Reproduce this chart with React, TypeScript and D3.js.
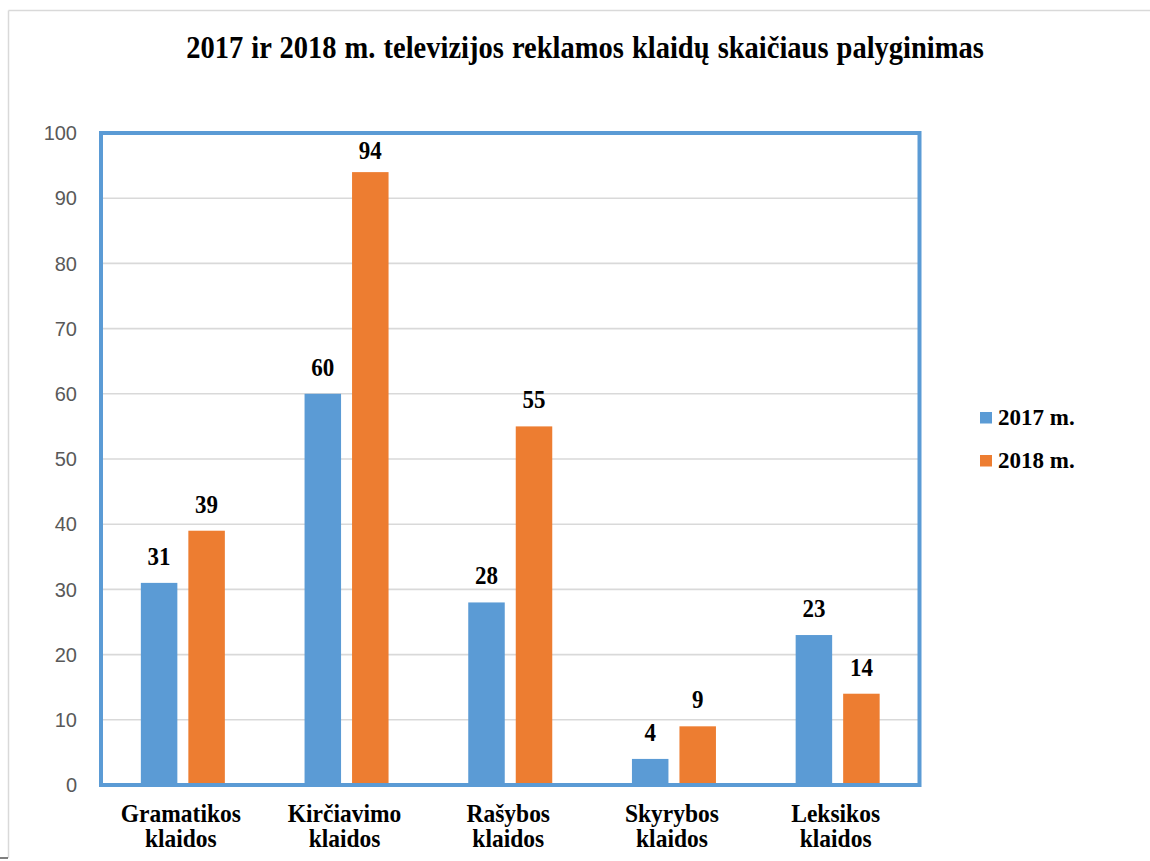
import React from "react";
import * as d3 from "d3";

const title = "2017 ir 2018 m. televizijos reklamos klaidų skaičiaus palyginimas";
const categories = [
  ["Gramatikos", "klaidos"],
  ["Kirčiavimo", "klaidos"],
  ["Rašybos", "klaidos"],
  ["Skyrybos", "klaidos"],
  ["Leksikos", "klaidos"],
];
const seriesNames = ["2017 m.", "2018 m."];
const values2017 = [31, 60, 28, 4, 23];
const values2018 = [39, 94, 55, 9, 14];
const yTicks = [0, 10, 20, 30, 40, 50, 60, 70, 80, 90, 100];
const colors = ["#5B9BD5", "#ED7D31"];

const W = 1150;
const H = 861;
const plot = { left: 101, right: 919.5, top: 133, bottom: 785 };
const serif = "'Liberation Serif', 'Times New Roman', serif";
const sans = "'Liberation Sans', Arial, sans-serif";

export default function App() {
  const catKeys = categories.map((c) => c.join(" "));
  const x0 = d3.scaleBand<string>().domain(catKeys).range([plot.left, plot.right]);
  const y = d3.scaleLinear().domain([0, 100]).range([plot.bottom, plot.top]);
  const series = [values2017, values2018];

  return (
    <svg
      width={W}
      height={H}
      style={{ position: "absolute", left: 0, top: 0, background: "#fff" }}
    >
      {/* outer chart border */}
      <line x1={8.5} y1={10.5} x2={W} y2={10.5} stroke="#d9d9d9" strokeWidth={1.5} />
      <line x1={8.5} y1={10.5} x2={8.5} y2={858} stroke="#d9d9d9" strokeWidth={1.5} />
      <line x1={0} y1={858} x2={8} y2={858} stroke="#000" strokeWidth={1} />

      {/* title */}
      <text
        transform={`translate(${585},${58}) scale(1,1.08)`}
        textAnchor="middle"
        fontFamily={serif}
        fontWeight="bold"
        fontSize={28.5}
        fill="#000"
        style={{ wordSpacing: "1px" }}
      >
        {title}
      </text>

      {/* gridlines */}
      {yTicks.map((t) => (
        <line
          key={"g" + t}
          x1={plot.left}
          x2={plot.right}
          y1={y(t)}
          y2={y(t)}
          stroke="#d9d9d9"
          strokeWidth={1.6}
        />
      ))}

      {/* y tick labels */}
      {yTicks.map((t) => (
        <text
          key={"t" + t}
          x={77}
          y={y(t)}
          dy="0.36em"
          textAnchor="end"
          fontFamily={sans}
          fontSize={20}
          fill="#595959"
        >
          {t}
        </text>
      ))}

      {/* bars */}
      {catKeys.map((k, i) => {
        const c = (x0(k) as number) + x0.bandwidth() / 2;
        const x1 = d3
          .scaleBand<string>()
          .domain(seriesNames)
          .range([c - 42, c + 42])
          .paddingInner(0.2316);
        return (
          <g key={k}>
            {seriesNames.map((s, j) => {
              const v = series[j][i];
              const bx = x1(s) as number;
              const top = y(v);
              const ly = Math.max(top - 18, plot.top + 26);
              return (
                <g key={s}>
                  <rect
                    x={bx}
                    y={top}
                    width={x1.bandwidth()}
                    height={y(0) - top}
                    fill={colors[j]}
                  />
                  <text
                    transform={`translate(${bx + x1.bandwidth() / 2},${ly}) scale(1,1.1)`}
                    textAnchor="middle"
                    fontFamily={serif}
                    fontWeight="bold"
                    fontSize={23}
                    fill="#000"
                  >
                    {v}
                  </text>
                </g>
              );
            })}
            <text
              transform={`translate(${c - 2},${822}) scale(1,1.1)`}
              textAnchor="middle"
              fontFamily={serif}
              fontWeight="bold"
              fontSize={23.5}
              fill="#000"
            >
              {categories[i].map((line, li) => (
                <tspan key={li} x={0} dy={li === 0 ? 0 : 25 / 1.1}>
                  {line}
                </tspan>
              ))}
            </text>
          </g>
        );
      })}

      {/* plot border */}
      <rect
        x={plot.left}
        y={plot.top}
        width={plot.right - plot.left}
        height={plot.bottom - plot.top}
        fill="none"
        stroke="#5B9BD5"
        strokeWidth={4}
      />

      {/* legend */}
      {seriesNames.map((s, j) => (
        <g key={s} transform={`translate(980,${412 + j * 43})`}>
          <rect x={0} y={0} width={12} height={11.5} fill={colors[j]} />
          <text
            x={18}
            y={13}
            fontFamily={serif}
            fontWeight="bold"
            fontSize={23}
            fill="#000"
          >
            {s}
          </text>
        </g>
      ))}
    </svg>
  );
}
